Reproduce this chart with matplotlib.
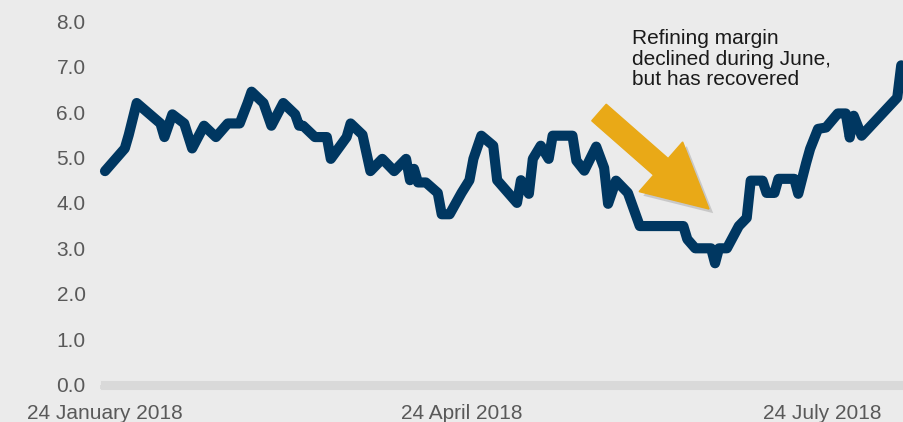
import numpy as np
import matplotlib
matplotlib.use("Agg")
import matplotlib.pyplot as plt
import matplotlib.dates as mdates
from matplotlib.patches import FancyArrow
from matplotlib.transforms import IdentityTransform
import matplotlib.patheffects as pe

plt.rcParams['font.family'] = ['Liberation Sans', 'DejaVu Sans']

dates = ["2018-01-24", "2018-01-29", "2018-01-30", "2018-02-01", "2018-02-07", "2018-02-08",
         "2018-02-10", "2018-02-13", "2018-02-15", "2018-02-18", "2018-02-21", "2018-02-24",
         "2018-02-27", "2018-03-01", "2018-03-02", "2018-03-05", "2018-03-07", "2018-03-10",
         "2018-03-13", "2018-03-14", "2018-03-15", "2018-03-18", "2018-03-21", "2018-03-22",
         "2018-03-26", "2018-03-27", "2018-03-30", "2018-04-01", "2018-04-04", "2018-04-07",
         "2018-04-10", "2018-04-11", "2018-04-12", "2018-04-13", "2018-04-15", "2018-04-18",
         "2018-04-19", "2018-04-21", "2018-04-24", "2018-04-26", "2018-04-27", "2018-04-29",
         "2018-05-02", "2018-05-03", "2018-05-08", "2018-05-09", "2018-05-11", "2018-05-12",
         "2018-05-14", "2018-05-16", "2018-05-17", "2018-05-22", "2018-05-23", "2018-05-25",
         "2018-05-28", "2018-05-30", "2018-05-31", "2018-06-02", "2018-06-05", "2018-06-08",
         "2018-06-19", "2018-06-20", "2018-06-22", "2018-06-26", "2018-06-27", "2018-06-28",
         "2018-06-30", "2018-07-03", "2018-07-05", "2018-07-06", "2018-07-09", "2018-07-10",
         "2018-07-12", "2018-07-13", "2018-07-17", "2018-07-18", "2018-07-20", "2018-07-21",
         "2018-07-23", "2018-07-25", "2018-07-28", "2018-07-30", "2018-07-31", "2018-08-01",
         "2018-08-03", "2018-08-12", "2018-08-13"]
margin = [4.70, 5.20, 5.50, 6.20, 5.75, 5.45,
          5.95, 5.75, 5.20, 5.70, 5.45, 5.75,
          5.75, 6.20, 6.45, 6.20, 5.70, 6.20,
          5.95, 5.70, 5.70, 5.45, 5.45, 4.97,
          5.45, 5.75, 5.50, 4.70, 4.97, 4.70,
          4.97, 4.50, 4.75, 4.45, 4.45, 4.22,
          3.75, 3.75, 4.22, 4.50, 4.97, 5.48,
          5.26, 4.50, 4.00, 4.50, 4.20, 4.97,
          5.26, 4.97, 5.48, 5.48, 4.93, 4.71,
          5.24, 4.77, 3.98, 4.49, 4.22, 3.49,
          3.49, 3.20, 3.00, 3.00, 2.67, 3.00,
          3.00, 3.49, 3.67, 4.49, 4.49, 4.22,
          4.22, 4.53, 4.53, 4.20, 4.88, 5.19,
          5.63, 5.66, 5.97, 5.97, 5.44, 5.92,
          5.48, 6.32, 7.03]

tick_dates = ["2018-01-24", "2018-04-24", "2018-07-24"]
tick_labels = ["24 January 2018", "24 April 2018", "24 July 2018"]
y_ticks = [0, 1, 2, 3, 4, 5, 6, 7, 8]
y_labels = ["0.0", "1.0", "2.0", "3.0", "4.0", "5.0", "6.0", "7.0", "8.0"]
note = "Refining margin\ndeclined during June,\nbut has recovered"

bg = "#ebebeb"
W, H = 904, 422
fig = plt.figure(figsize=(W / 100, H / 100), dpi=100, facecolor=bg)
ax = fig.add_axes([105 / W, (H - 384.5) / H, 1 - 105 / W, (384.5 - 21.3) / H])
ax.set_facecolor(bg)

x = np.array(dates, dtype="datetime64[D]")
ax.plot(x, margin, color="#003761", lw=7.3, solid_capstyle="round",
        solid_joinstyle="round", zorder=3, clip_on=False)

x0 = np.datetime64("2018-01-24")
ax.set_xlim(mdates.date2num(x0), mdates.date2num(x0) + 201.7)
ax.set_ylim(0, 8)

ax.set_xticks(np.array(tick_dates, dtype="datetime64[D]"))
ax.set_xticklabels(tick_labels)
ax.set_yticks(y_ticks)
ax.set_yticklabels(y_labels)

for s in ["top", "right", "left"]:
    ax.spines[s].set_visible(False)
ax.spines["bottom"].set_color("#d9d9d9")
ax.spines["bottom"].set_linewidth(6.5)
ax.tick_params(axis="y", length=0, pad=14, labelsize=15, labelcolor="#595959")
ax.tick_params(axis="x", direction="out", length=3, width=7, color="#d9d9d9",
               pad=11, labelsize=15, labelcolor="#595959")

fig.text(632 / W, (H - 29.5) / H, note, ha="left", va="top", fontsize=15,
         color="#1a1a1a", linespacing=1.09)

arrow = FancyArrow(599, H - 112.5, 110, -96.5, width=22, head_width=66,
                   head_length=64, length_includes_head=True,
                   transform=IdentityTransform(), color="#e9a917", zorder=5,
                   path_effects=[pe.SimplePatchShadow(offset=(3, -3), shadow_rgbFace="#888888", alpha=0.35), pe.Normal()])
fig.add_artist(arrow)

fig.savefig("out.png", dpi=100, facecolor=bg)
